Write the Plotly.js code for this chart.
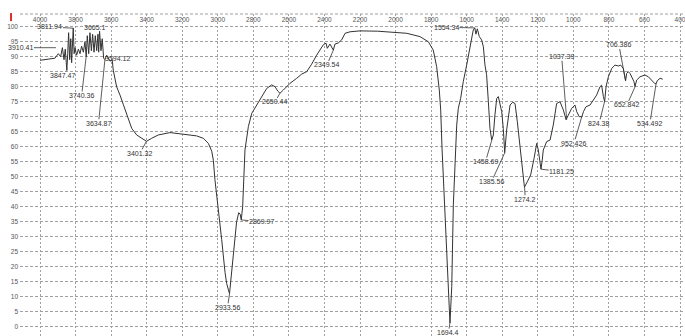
<!DOCTYPE html>
<html><head><meta charset="utf-8">
<script src="https://cdn.plot.ly/plotly-3.0.1.min.js"></script>
<style>html,body{margin:0;padding:0;background:#fff}#chart{width:685px;height:336px}</style>
</head><body><div id="chart"></div>
<script>
// IR spectrum: wavenumber (cm-1) and transmittance (%)
const wavenumber = [4000,3985,3970,3955,3940,3925,3916,3897,3884,3874,3865,3858,3849,3844,3839,3833,3827,3822,3813,3808,3803,3794,3784,3775,3766,3756,3747,3740,3734,3726,3719,3711,3704,3696,3689,3681,3674,3670,3665,3657,3650,3642,3635,3625,3616,3606,3594,3588,3569,3561,3550,3531,3511,3484,3456,3428,3401,3372,3335,3269,3194,3119,3081,3053,3034,3025,3016,2997,2978,2959,2950,2934,2922,2903,2894,2882,2874,2868,2860,2847,2828,2809,2781,2753,2725,2697,2678,2662,2650,2631,2594,2556,2528,2500,2472,2444,2406,2391,2384,2369,2350,2341,2322,2303,2284,2256,2200,2100,2050,1937,1863,1816,1788,1769,1754,1746,1739,1728,1722,1703,1694,1684,1675,1656,1647,1634,1619,1600,1581,1572,1563,1554,1548,1540,1529,1516,1506,1497,1488,1478,1469,1459,1450,1441,1431,1422,1413,1403,1394,1386,1375,1366,1356,1341,1328,1315,1300,1287,1275,1259,1240,1221,1206,1197,1182,1175,1169,1150,1131,1113,1094,1075,1056,1041,1028,1009,991,981,967,952,943,929,906,887,869,850,841,831,824,816,803,784,766,747,734,719,706,700,691,681,672,659,653,644,625,597,578,559,541,534,528,512,497];
const transmittance = [88.8,88.9,89.0,89.1,89.3,89.4,89.5,91,90,93,89,92.5,85.5,91,98,89,96,88,99.5,91,93,90.5,92.5,91,93.5,91.5,95,90,97,91,98,92,97.5,91.5,97,92,97.5,91.5,98.5,92,96,89.5,89,90.5,89.5,88.5,89,85.5,80,79,77.2,74,70.6,66.1,63.9,62.8,61.8,62.8,63.9,64.7,64.2,63.6,62.8,61.1,58.5,55.5,49,40,29,18,14.4,11,17.8,28.9,35,38,37.5,35.6,40,58.9,66.7,71.1,73.9,76.7,79.4,80.6,80,78.5,77.8,78.9,81.1,82.8,84.2,85,87.5,90.5,94,94.5,92.8,94.2,92.2,94.2,94.6,95.6,97.8,98.3,98.6,98.5,98.3,97.8,96.7,95,92.2,86.7,78.9,72.2,60,45,35.6,13.3,1.2,13.3,40.6,67.2,72.8,76.1,81.7,87.2,93.3,95.6,98.9,99.6,97.5,99.3,96.7,95.6,93.3,87.2,84,75,66.1,62.2,63.9,70.6,76.1,76.7,74.4,71.7,66.1,58,65.6,70.6,73.9,74.8,74.4,68.3,59.4,51.7,46.5,48.3,50.6,56.1,61.1,58.9,52.5,55.5,58.9,61.7,62.2,67.2,74.4,75,72.2,69,70.6,72.8,73.9,71.7,70,70,71.7,73.3,73.9,75.6,77.2,80,80.5,76.7,75,80,83.3,86.1,87.2,86.9,87.2,86.1,82,84.4,85,84.4,83.3,81.7,80,82.2,83.3,83.9,83.3,82.2,81,81,82,82.8,82.5];

// Peak labels
const peakLabels = ["3910.41","3811.94","3847.47","3740.36","3665.1","3594.12","3634.87","3401.32","2933.56","2869.97","2650.44","2349.54","1554.34","1458.69","1385.56","1274.2","1181.25","952.426","824.38","1037.39","706.386","652.842","534.492","1694.4"];
const peakWavenumber = [3910.41,3811.94,3847.47,3740.36,3665.1,3594.12,3634.87,3401.32,2933.56,2869.97,2650.44,2349.54,1554.34,1458.69,1385.56,1274.2,1181.25,952.426,824.38,1037.39,706.386,652.842,534.492,1694.4];
const peakTransmittance = [93,99.5,85.5,90,98.5,89,89,61.8,11,35.6,77.8,92.2,99.6,62.2,58,46.5,52.5,70,75,69,82,80,81,1.2];

// Tick labels
const xTickValues = [4000,3800,3600,3400,3200,3000,2800,2600,2400,2200,2000,1800,1600,1400,1200,1000,800,600,400];
const yTickValues = [0,5,10,15,20,25,30,35,40,45,50,55,60,65,70,75,80,85,90,95,100];

// label text offsets (pixels) relative to the marked point
const labelOffsets = [[-35,0],[-23.5,-1.2],[-4.6,5.3],[-4.5,38.8],[-4.6,-3.9],[5.3,-0.9],[-6.4,63.6],[-6.5,12],[-2.1,13.6],[20.6,1.8],[-5,8.7],[-6.5,14.9],[-28.3,-0.6],[-6.3,21.6],[-13.3,29],[0.7,12.1],[20.6,2.5],[-7.8,26.6],[-5.4,21.6],[-5,-63],[-6.6,-35.7],[-8.1,18.3],[-6.2,39.6],[-1.4,9.5]];

const FONT = 'Liberation Sans, Arial, sans-serif';
const annotations = peakLabels.map((t, i) => ({
  x: peakWavenumber[i], y: peakTransmittance[i], xref: 'x', yref: 'y',
  text: t, showarrow: true, arrowhead: 0, arrowwidth: 0.8, arrowcolor: '#333',
  ax: labelOffsets[i][0], ay: labelOffsets[i][1], standoff: 0, startstandoff: 0,
  font: {family: FONT, size: 7, color: '#333'}, borderpad: 0
}));

const trace = {
  x: wavenumber, y: transmittance, type: 'scatter', mode: 'lines',
  line: {color: '#333', width: 1}, hoverinfo: 'skip'
};

const layout = {
  width: 685, height: 336,
  margin: {l: 20, r: 0, t: 14, b: 0, pad: 0},
  paper_bgcolor: '#fff', plot_bgcolor: '#fff', showlegend: false,
  xaxis: {
    range: [4112.5, 371.9], side: 'top', tickmode: 'array', tickvals: xTickValues,
    ticktext: xTickValues.map(String), ticks: '', ticklabelposition: 'inside',
    ticklabeloverflow: 'allow', showgrid: true, gridcolor: '#a0a0a0', gridwidth: 1,
    griddash: '2px,2px', zeroline: false, showline: false,
    tickfont: {family: FONT, size: 6.5, color: '#555'}
  },
  yaxis: {
    range: [-3.1, 104.23], tickmode: 'array', tickvals: yTickValues,
    ticktext: yTickValues.map(String), ticks: '', ticklabelstandoff: 1,
    showgrid: true, gridcolor: '#a0a0a0', gridwidth: 1,
    griddash: '3px,2px', zeroline: false, showline: false,
    tickfont: {family: FONT, size: 6.5, color: '#555'}
  },
  shapes: [
    {type: 'line', xref: 'paper', yref: 'paper', x0: 0, x1: 1, y0: 1, y1: 1,
     line: {color: '#a0a0a0', width: 1, dash: '3px,2px'}},
    {type: 'rect', xref: 'paper', yref: 'paper', x0: -0.015, x1: -0.012, y0: 0.978, y1: 1.003,
     fillcolor: '#e03030', line: {width: 0}}
  ],
  annotations: annotations
};

Plotly.newPlot('chart', [trace], layout, {staticPlot: true, displayModeBar: false});
</script>
</body></html>
